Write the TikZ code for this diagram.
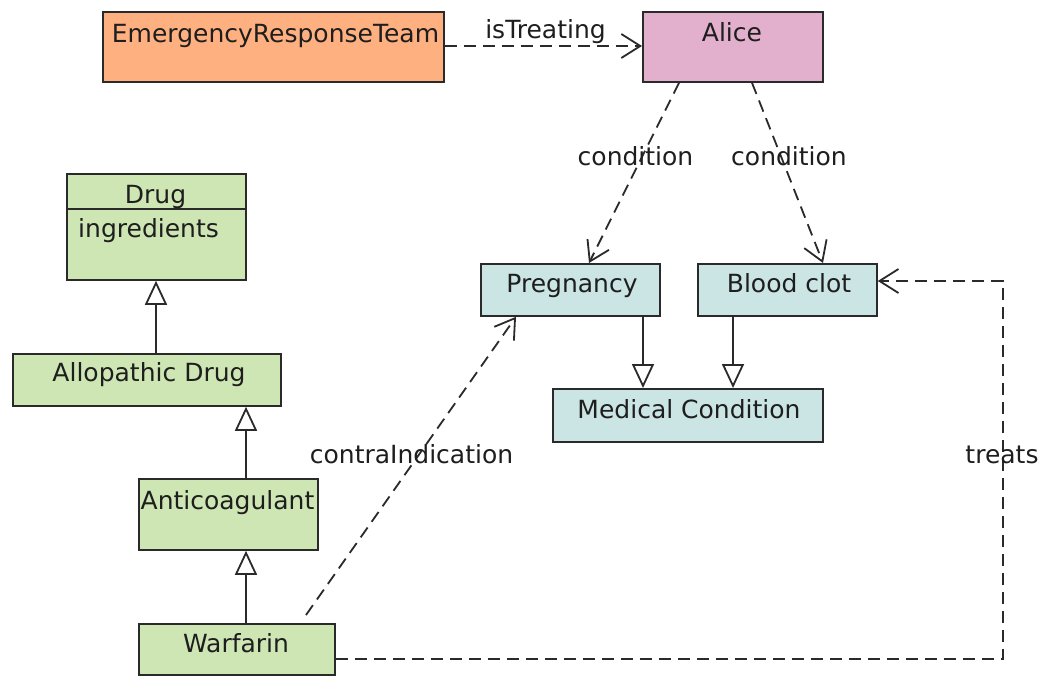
\documentclass[tikz,border=0pt]{standalone}
\usepackage{fontspec}
\setmainfont{DejaVu Sans}
\usetikzlibrary{arrows.meta,calc}
\definecolor{cOrange}{HTML}{FFB080}
\definecolor{cPink}{HTML}{E2B0CC}
\definecolor{cGreen}{HTML}{CEE5B4}
\definecolor{cBlue}{HTML}{CBE4E4}
\definecolor{cLine}{HTML}{2A2A2A}
\definecolor{cText}{HTML}{1E1E1E}
\tikzset{
  box/.style={draw=cLine, line width=1.8pt, anchor=north west, inner sep=0pt},
  txt/.style={text=cText, font=\fontsize{25}{30}\selectfont, inner sep=0pt, anchor=base},
  gen/.style={draw=cLine, line width=1.8pt, -{Triangle[open,length=24pt,width=22pt,fill=white]}},
  dep/.style={draw=cLine, line width=1.8pt, dash pattern=on 12pt off 7pt, -{Straight Barb[length=19pt,width=24pt]}},
}
\begin{document}
\begin{tikzpicture}[x=1pt,y=-1pt]
\useasboundingbox[fill=white] (0,0) rectangle (1039,675);
% boxes
\node[box, fill=cOrange, minimum width=341pt, minimum height=70pt] (ert) at (102,11) {};
\node[box, fill=cPink, minimum width=180pt, minimum height=70pt] (alice) at (642,11) {};
\node[box, fill=cGreen, minimum width=179pt, minimum height=106pt] (drug) at (66,173) {};
\node[box, fill=cGreen, minimum width=268pt, minimum height=52pt] (allo) at (12,353) {};
\node[box, fill=cGreen, minimum width=179pt, minimum height=71pt] (anti) at (138,478) {};
\node[box, fill=cGreen, minimum width=196pt, minimum height=51pt] (warf) at (138,623) {};
\node[box, fill=cBlue, minimum width=179pt, minimum height=52pt] (preg) at (480,263) {};
\node[box, fill=cBlue, minimum width=179pt, minimum height=52pt] (clot) at (697,263) {};
\node[box, fill=cBlue, minimum width=270pt, minimum height=53pt] (med) at (552,388) {};
\draw[draw=cLine, line width=1.8pt] (drug.west |- 0,209) -- (drug.east |- 0,209);
% box texts
\node[txt] (tert) at (275.5,42) {EmergencyResponseTeam};
\node[txt] (talice) at (732,41.5) {Alice};
\node[txt] (tdrug) at (155.5,203) {Drug};
\node[txt, anchor=base west] (tingr) at (78,237) {ingredients};
\node[txt] (tallo) at (149,381) {Allopathic Drug};
\node[txt] (tanti) at (227.5,509) {Anticoagulant};
\node[txt] (twarf) at (236,652) {Warfarin};
\node[txt] (tpreg) at (572,292) {Pregnancy};
\node[txt] (tclot) at (789,292) {Blood clot};
\node[txt] (tmed) at (689,418) {Medical Condition};
% helper coordinates
\coordinate (xd) at (156,0);
\coordinate (xa) at (246,0);
\coordinate (xp) at (643,0);
\coordinate (xc) at (733,0);
\coordinate (xt) at (1003,0);
\coordinate (ya) at (0,46);
\coordinate (yt) at (0,659);
\coordinate (yc) at (0,281);
% generalizations
\draw[gen] (allo.north -| xd) -- (drug.south -| xd);
\draw[gen] (anti.north -| xa) -- (allo.south -| xa);
\draw[gen] (warf.north -| xa) -- (anti.south -| xa);
\draw[gen] (preg.south -| xp) -- (med.north -| xp);
\draw[gen] (clot.south -| xc) -- (med.north -| xc);
% dependencies
\draw[dep] (ert.east |- ya) -- (alice.west |- ya);
\draw[dep] ($(alice.south west)+(37,0)$) -- ($(preg.north west)+(109,0)$);
\draw[dep] ($(alice.south west)+(110,0)$) -- ($(clot.north west)+(126,0)$);
\draw[dep] ($(warf.north west)+(168,-8)$) -- ($(preg.south west)+(36,0)$);
\draw[dep] (warf.east |- yt) -- (xt |- yt) -- (xt |- yc) -- (clot.east |- yc);
% edge labels
\node[txt] (lis) at (545.5,38) {isTreating};
\node[txt] (lc1) at (635.5,165.5) {condition};
\node[txt] (lc2) at (789,165.5) {condition};
\node[txt] (lci) at (411.5,463) {contraIndication};
\node[txt] (ltr) at (1002,463) {treats};
\end{tikzpicture}
\end{document}
